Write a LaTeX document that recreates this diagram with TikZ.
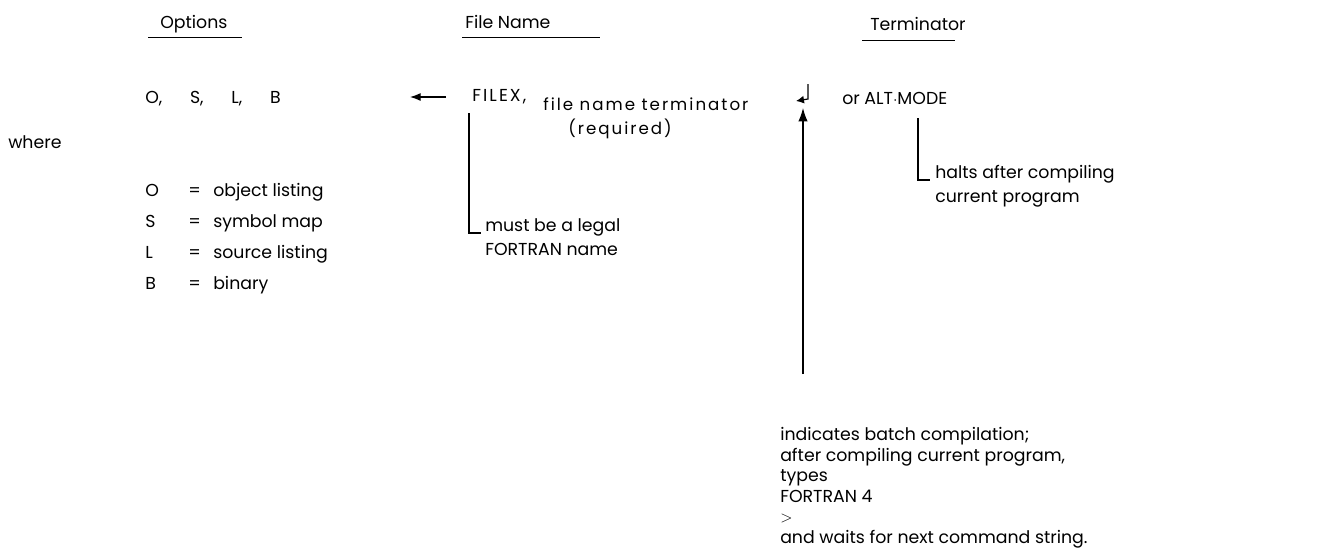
\documentclass[tikz,border=0pt]{standalone}
\usepackage{fontspec}
\setmainfont{Poppins}
\usepackage{tikz}
\usetikzlibrary{arrows.meta}

\begin{document}
\begin{tikzpicture}[x=0.75pt, y=-0.75pt,
		txt/.style={anchor=base west, inner sep=0pt, font=\fontsize{13}{16}\selectfont},
		wide/.style={txt, font=\fontsize{12.5}{15}\selectfont\addfontfeature{LetterSpace=12}}]
		\useasboundingbox[fill=white] (0, 0) rectangle (1331, 550);

		% column heads
		\node[txt] (opt) at (160, 28) {Options};
		\node[txt] (fn) at (465, 28) {File Name};
		\node[txt] (term) at (870, 30) {Terminator};
		\draw (148, 37) -- (242, 37);
		\draw (462, 37) -- (600, 37);
		\draw (862, 40) -- (955, 40);

		% command line
		\node[txt] (osl) at (145, 103) {O,\hspace{1.6em}S,\hspace{1.6em}L,\hspace{1.6em}B};
		\node[txt, font=\fontsize{13}{16}\selectfont\addfontfeature{LetterSpace=12}] (filex) at (472, 101) {FILEX,};
		\node[wide] (fnt) at (543, 110) {file name terminator};
		\node[wide] (req) at (568, 134) {(required)};
		\node[txt] (alt) at (842, 104) {or ALT$\cdot$MODE};
		\node[txt] (where) at (8, 148) {where};

		\coordinate (arra) at (446, 97);
		\coordinate (arrb) at (410, 97);
		\draw[-{Latex[length=8pt, width=6pt]}, line width=0.9pt] (arra) -- (arrb);

		% the carriage return mark
		\coordinate (cra) at (808, 84);
		\coordinate (crb) at (808, 99);
		\coordinate (crc) at (796, 101);
		\draw[-{Latex[length=6pt, width=6pt]}, line width=0.9pt] (cra) -- (crb) -- (crc);

		% list of options
		\foreach \k/\t [count=\i] in {O/object listing, S/symbol map, L/source listing, B/binary} {
			\node[txt] (key\i) at (145, 165 + 31*\i) {\k};
			\node[txt] (eq\i) at (188, 165 + 31*\i) {=};
			\node[txt] (val\i) at (213, 165 + 31*\i) {\t};
		}

		% name rule
		\node[txt] (leg1) at (485, 231) {must be a legal};
		\node[txt] (leg2) at (485, 255) {FORTRAN name};
		\draw[line width=0.8pt] (469, 113) |- (481, 233);

		% alt mode rule
		\node[txt] (halt1) at (935, 178) {halts after compiling};
		\node[txt] (halt2) at (935, 202) {current program};
		\draw[line width=0.8pt] (918, 118) |- (930, 180);

		% batch note
		\foreach \t [count=\i] in {indicates batch compilation;,
				{after compiling current program,}, types, FORTRAN 4, $>$,
				and waits for next command string.} {
			\node[txt] (bat\i) at (780, 420 + 20.5*\i) {\t};
		}
		\coordinate (upa) at (803, 374);
		\coordinate (upb) at (803, 108);
		\draw[-{Latex[length=10pt, width=7pt]}, line width=0.9pt] (upa) -- (upb);
	\end{tikzpicture}
\end{document}
